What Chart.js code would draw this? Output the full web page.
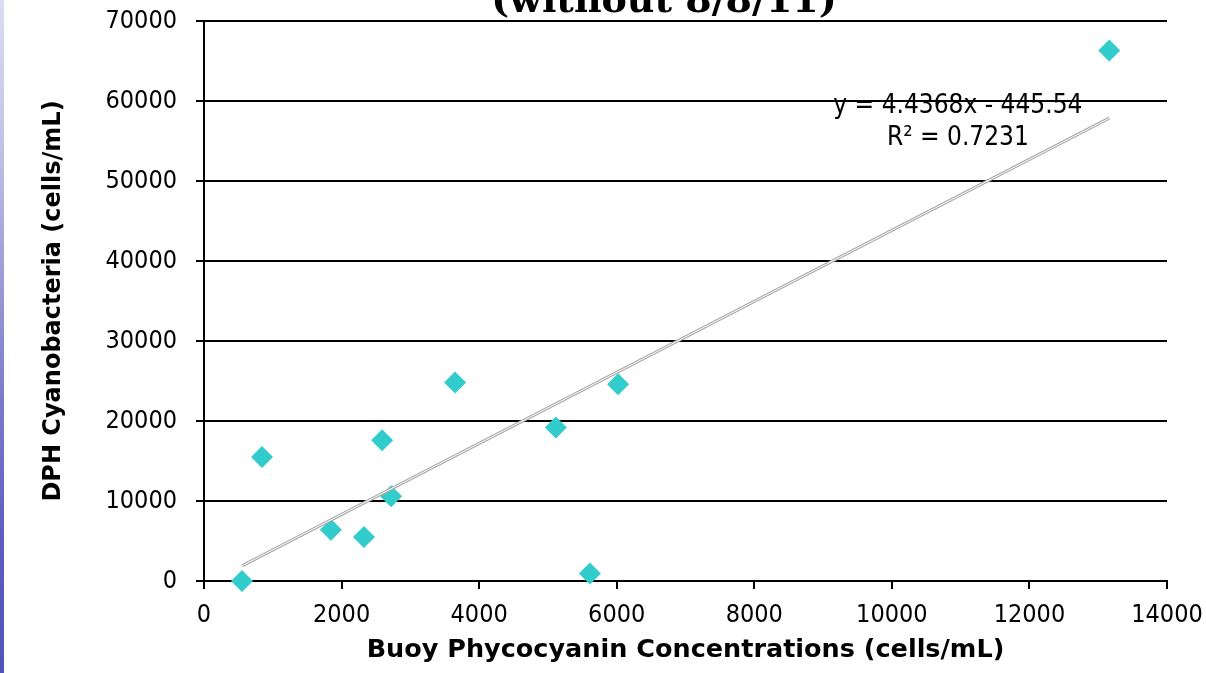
<!DOCTYPE html>
<html>
<head>
<meta charset="utf-8">
<script src="https://cdn.jsdelivr.net/npm/chart.js@4.4.0/dist/chart.umd.min.js"></script>
<style>
html,body{margin:0;padding:0;background:#fff;overflow:hidden;width:1206px;height:673px;}
#wrap{position:absolute;left:0;top:-40px;width:1206px;height:713px;}
#stripe{position:absolute;left:0;top:0;width:4px;height:673px;
  background:linear-gradient(to bottom,#dcdcf2 0%,#c4c4e8 20%,#9e9ed8 40%,#7a7acc 60%,#5d5dc3 80%,#5252bf 100%);}
</style>
</head>
<body>
<div id="wrap"><canvas id="c" width="1206" height="713"></canvas></div>
<div id="stripe"></div>
<script>
// ---- data ----
const buoyPhycocyanin = [552, 843, 1845, 2325, 2590, 2720, 3650, 5115, 5610, 6020, 13160];
const dphCyanobacteria = [0, 15500, 6400, 5500, 17600, 10600, 24800, 19200, 950, 24600, 66300];
const trendX = [552, 13160];
const trendY = [1900, 57850];
const xTickValues = [0, 2000, 4000, 6000, 8000, 10000, 12000, 14000];
const yTickValues = [0, 10000, 20000, 30000, 40000, 50000, 60000, 70000];
const titleText = '(without 8/8/11)';
const xTitle = 'Buoy Phycocyanin Concentrations (cells/mL)';
const yTitle = 'DPH Cyanobacteria (cells/mL)';
const equationLines = ['y = 4.4368x - 445.54', 'R\u00b2 = 0.7231'];

const pts = buoyPhycocyanin.map((x, i) => ({x, y: dphCyanobacteria[i]}));
const trend = trendX.map((x, i) => ({x, y: trendY[i]}));

const SANS = "'DejaVu Sans Condensed', 'DejaVu Sans', sans-serif";
const SANSB = "'DejaVu Sans', sans-serif";

const overlay = {
  id: 'overlay',
  afterDraw(chart) {
    const ctx = chart.ctx;
    const xs = chart.scales.x, ys = chart.scales.y;
    ctx.save();
    ctx.fillStyle = '#000';
    ctx.font = "bold 38px 'DejaVu Serif', serif";
    ctx.textAlign = 'center';
    ctx.textBaseline = 'alphabetic';
    ctx.fillText(titleText, 664, 52);
    ctx.font = '26px ' + SANS;
    ctx.fillText(equationLines[0], xs.getPixelForValue(10960), ys.getPixelForValue(58500));
    ctx.fillText(equationLines[1], xs.getPixelForValue(10960), ys.getPixelForValue(54500));
    ctx.restore();
  }
};

new Chart(document.getElementById('c'), {
  type: 'scatter',
  data: {
    datasets: [
      {
        type: 'line', data: trend, order: 1,
        borderColor: '#ffffff', borderWidth: 1, pointRadius: 0, fill: false, tension: 0
      },
      {
        type: 'line', data: trend, order: 2,
        borderColor: '#a8a8a8', borderWidth: 3.2, pointRadius: 0, fill: false, tension: 0
      },
      {
        data: pts, order: 3, clip: false,
        pointStyle: 'rectRot', pointRadius: 11, pointHoverRadius: 11,
        backgroundColor: '#33CCCC', borderColor: '#33CCCC', borderWidth: 0
      }
    ]
  },
  options: {
    responsive: false,
    animation: false,
    devicePixelRatio: 1,
    layout: {padding: {left: 14, right: 39, top: 61, bottom: 0}},
    plugins: {legend: {display: false}, tooltip: {enabled: false}, title: {display: false}},
    scales: {
      x: {
        type: 'linear', min: 0, max: 14000,
        afterBuildTicks: s => { s.ticks = xTickValues.map(v => ({value: v})); },
        afterFit: s => { s.height = 92; s.paddingLeft = 0; s.paddingRight = 0; },
        ticks: {color: '#000', font: {family: SANS, size: 25}, padding: 11, callback: v => String(v)},
        grid: {drawOnChartArea: false, drawTicks: true, tickLength: 8, color: '#000', lineWidth: 2},
        border: {display: true, color: '#000', width: 2},
        title: {display: true, text: xTitle, color: '#000', font: {family: SANSB, size: 25.5, weight: 'bold'}, padding: {top: 0, bottom: 7}}
      },
      y: {
        type: 'linear', min: 0, max: 70000,
        afterBuildTicks: s => { s.ticks = yTickValues.map(v => ({value: v})); },
        afterFit: s => { s.width = 190; s.paddingTop = 0; s.paddingBottom = 0; },
        ticks: {color: '#000', font: {family: SANS, size: 25}, padding: 19, callback: v => String(v)},
        grid: {color: '#000', lineWidth: 2, drawTicks: true, tickLength: 8},
        border: {display: true, color: '#000', width: 2},
        title: {display: true, text: yTitle, color: '#000', font: {family: SANSB, size: 24, weight: 'bold'}, padding: {top: 25, bottom: 0}}
      }
    }
  },
  plugins: [overlay]
});
</script>
</body>
</html>
